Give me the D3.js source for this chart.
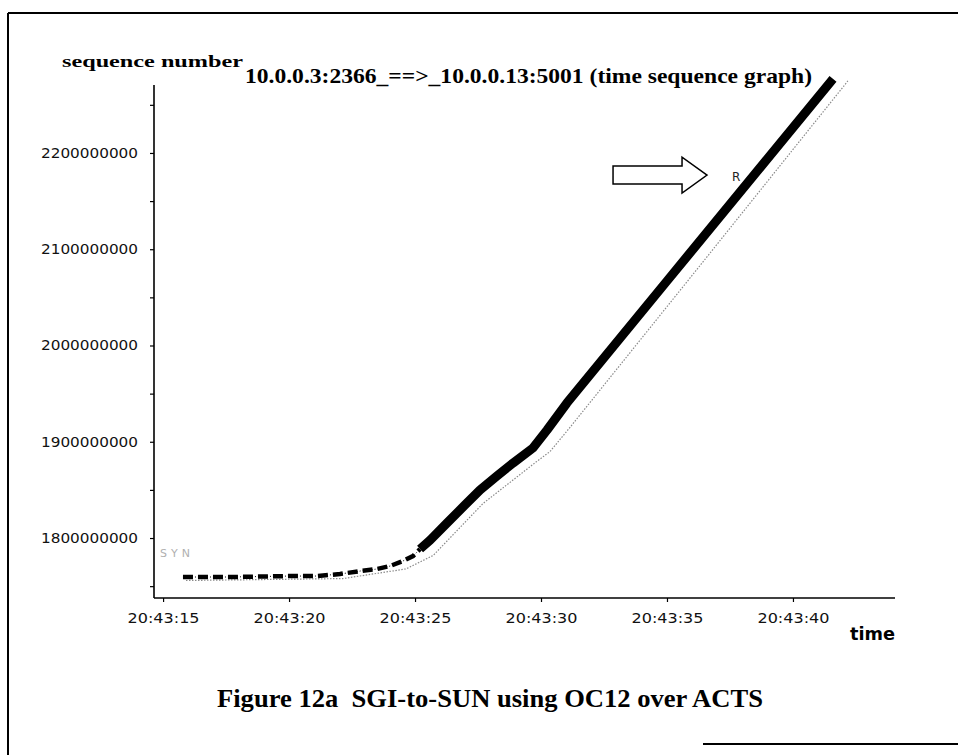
<!DOCTYPE html>
<html>
<head>
<meta charset="utf-8">
<script src="https://cdn.jsdelivr.net/npm/d3@7"></script>
<style>
  html, body { margin: 0; padding: 0; background: #fff; }
  svg { display: block; }
  text.pre { white-space: pre; }
</style>
</head>
<body>
<svg id="chart" width="958" height="755"></svg>
<script>
// ---- data (seconds after 20:43:00, sequence numbers) ----
const dataTimes  = [15.79, 17.66, 20.04, 21.11, 22.02, 22.82, 23.49, 24.01, 24.52, 24.92, 25.20, 25.60, 26.27, 26.98, 27.58, 28.25, 28.89, 29.68, 30.24, 31.03, 35.00, 41.59];
const dataSeq    = [1759.5e6, 1759.5e6, 1760.5e6, 1760.5e6, 1762.6e6, 1765.7e6, 1767.8e6, 1770.9e6, 1776.1e6, 1781.3e6, 1788.6e6, 1797.9e6, 1815.6e6, 1834.3e6, 1849.9e6, 1864.4e6, 1877.9e6, 1893.5e6, 1912.2e6, 1940.3e6, 2067.0e6, 2276.9e6];
const ackTimes   = [15.79, 22.02, 24.52, 25.60, 27.58, 29.68, 30.24, 31.03, 36.31, 42.06];
const ackSeq     = [1759.0e6, 1761.0e6, 1771.0e6, 1785.0e6, 1839.0e6, 1882.0e6, 1893.0e6, 1918.0e6, 2090.0e6, 2277.9e6];
const xTickSeconds = [15, 20, 25, 30, 35, 40];
const yTickValues  = [1750e6, 1800e6, 1850e6, 1900e6, 1950e6, 2000e6, 2050e6, 2100e6, 2150e6, 2200e6, 2250e6];
const yLabelValues = [1800e6, 1900e6, 2000e6, 2100e6, 2200e6];
const xDomainSeconds = [14.64, 44.05];
const yDomain = [1737.7e6, 2270.6e6];
const titleText   = "10.0.0.3:2366_==>_10.0.0.13:5001 (time sequence graph)";
const yAxisLabel  = "sequence number";
const xAxisLabel  = "time";
const captionText = "Figure 12a  SGI-to-SUN using OC12 over ACTS";
const synLabel = "SYN";
const annotationLabel = "R";
const annotationPoint = { t: 36.59, v: 2177e6 };   // where the arrow points
const dashedUntil = 25.2; // early slow-start part drawn as dashes

const toDate = s => new Date(2000, 0, 1, 20, 43, 0, Math.round(s * 1000));

const svg = d3.select("#chart");

// plot geometry
const plotLeft = 154, plotRight = 895, plotTop = 85, plotBottom = 598;

const x = d3.scaleTime().domain(xDomainSeconds.map(toDate)).range([plotLeft, plotRight]);
const y = d3.scaleLinear().domain(yDomain).range([plotBottom, plotTop]);

// ---- frame ----
svg.append("line").attr("x1", 8).attr("x2", 958).attr("y1", 13).attr("y2", 13)
  .attr("stroke", "#000").attr("stroke-width", 2);
svg.append("line").attr("x1", 8).attr("x2", 8).attr("y1", 13).attr("y2", 755)
  .attr("stroke", "#000").attr("stroke-width", 2);
svg.append("line").attr("x1", 703).attr("x2", 958).attr("y1", 744).attr("y2", 744)
  .attr("stroke", "#000").attr("stroke-width", 2);

// ---- axes ----
const yAxis = d3.axisLeft(y)
  .tickValues(yTickValues)
  .tickSize(4).tickPadding(12)
  .tickFormat(v => yLabelValues.includes(v) ? d3.format("d")(v) : "");
const gy = svg.append("g").attr("transform", `translate(${plotLeft},0)`).call(yAxis);
gy.select(".domain").attr("d", `M0,${plotTop}V${plotBottom}`).attr("stroke-width", 1.6);
gy.selectAll(".tick line").attr("stroke-width", 1.2);
gy.selectAll(".tick text")
  .attr("font-family", "DejaVu Sans, sans-serif").attr("font-size", 14).attr("fill", "#111")
  .attr("textLength", function () { return this.textContent ? 97 : null; })
  .attr("lengthAdjust", "spacingAndGlyphs");

const xAxis = d3.axisBottom(x)
  .tickValues(xTickSeconds.map(toDate))
  .tickSize(4).tickPadding(11)
  .tickFormat(d3.timeFormat("%H:%M:%S"));
const gx = svg.append("g").attr("transform", `translate(0,${plotBottom})`).call(xAxis);
gx.select(".domain").attr("d", `M${plotLeft},0H${plotRight}`).attr("stroke-width", 1.6);
gx.selectAll(".tick line").attr("stroke-width", 1.2);
gx.selectAll(".tick text")
  .attr("font-family", "DejaVu Sans, sans-serif").attr("font-size", 14).attr("fill", "#111")
  .attr("textLength", 72).attr("lengthAdjust", "spacingAndGlyphs");

// ---- series ----
const dataPts = dataTimes.map((t, i) => ({ t, v: dataSeq[i] }));
const ackPts  = ackTimes.map((t, i) => ({ t, v: ackSeq[i] }));
const line = d3.line().x(d => x(toDate(d.t))).y(d => y(d.v));

// ack (gray dotted)
svg.append("path").datum(ackPts).attr("d", line)
  .attr("fill", "none").attr("stroke", "#8a8a8a").attr("stroke-width", 1.2)
  .attr("stroke-dasharray", "1.5,1.5")
  .attr("transform", "translate(3,3)");

// early dashed portion
const early = dataPts.filter(d => d.t <= dashedUntil);
const late  = dataPts.filter(d => d.t >= dashedUntil);
svg.append("path").datum(early).attr("d", line)
  .attr("fill", "none").attr("stroke", "#000").attr("stroke-width", 1)
  .attr("stroke-dasharray", "1,2");
svg.append("path").datum(early).attr("d", line)
  .attr("fill", "none").attr("stroke", "#000").attr("stroke-width", 4.5)
  .attr("stroke-dasharray", "10,5");
svg.append("path").datum(late).attr("d", line)
  .attr("fill", "none").attr("stroke", "#000").attr("stroke-width", 9)
  .attr("stroke-linejoin", "round");

// SYN marker text
svg.append("text").attr("x", x(toDate(dataTimes[0])) - 23).attr("y", y(dataSeq[0]) - 20)
  .attr("font-family", "DejaVu Sans, sans-serif").attr("font-size", 11)
  .attr("fill", "#b0b0b0").attr("letter-spacing", 4).text(synLabel);

// ---- annotation arrow ----
const ax = x(toDate(annotationPoint.t)), ay = y(annotationPoint.v);
svg.append("path")
  .attr("d", `M${ax},${ay} L${ax-25},${ay-18} L${ax-25},${ay-9} L${ax-94},${ay-9} L${ax-94},${ay+9} L${ax-25},${ay+9} L${ax-25},${ay+18} Z`)
  .attr("fill", "#fff").attr("stroke", "#000").attr("stroke-width", 1.5);
svg.append("text").attr("x", ax + 25).attr("y", ay + 6)
  .attr("font-family", "DejaVu Sans, sans-serif").attr("font-size", 12).attr("fill", "#222")
  .text(annotationLabel);

// ---- texts ----
svg.append("text").attr("x", 62).attr("y", 67)
  .attr("font-family", "Liberation Serif, serif").attr("font-weight", "bold").attr("font-size", 17)
  .attr("textLength", 181).attr("lengthAdjust", "spacingAndGlyphs").text(yAxisLabel);
svg.append("text").attr("x", 245).attr("y", 83)
  .attr("font-family", "Liberation Serif, serif").attr("font-weight", "bold").attr("font-size", 22)
  .attr("textLength", 567).attr("lengthAdjust", "spacingAndGlyphs").text(titleText);
svg.append("text").attr("x", 850).attr("y", 640)
  .attr("font-family", "DejaVu Sans, sans-serif").attr("font-weight", "bold").attr("font-size", 17)
  .attr("textLength", 45).attr("lengthAdjust", "spacingAndGlyphs").text(xAxisLabel);
svg.append("text").attr("class", "pre").attr("x", 217).attr("y", 707)
  .attr("font-family", "Liberation Serif, serif").attr("font-weight", "bold").attr("font-size", 25)
  .attr("textLength", 546).attr("lengthAdjust", "spacingAndGlyphs").text(captionText);
</script>
</body>
</html>
